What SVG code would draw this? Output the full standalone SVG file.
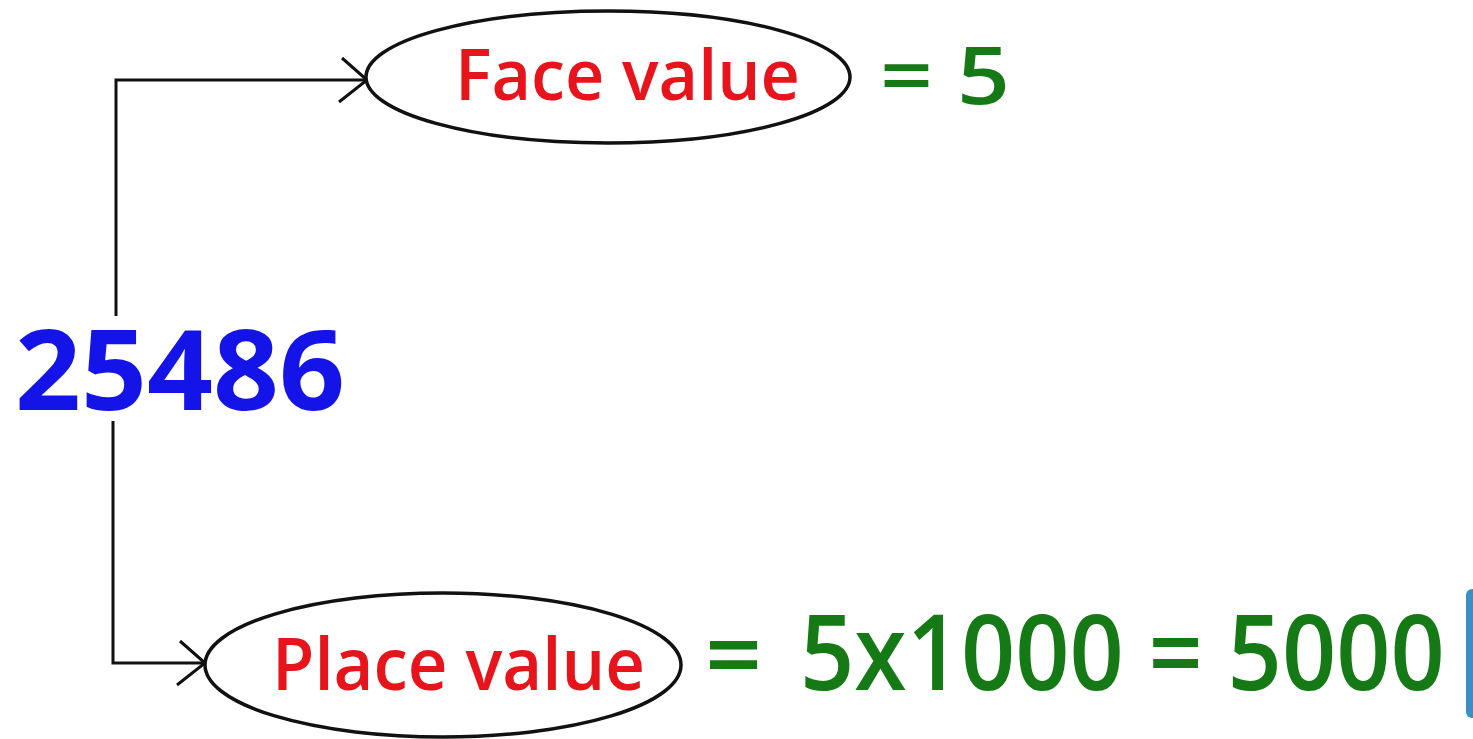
<svg xmlns="http://www.w3.org/2000/svg" width="1473" height="739" viewBox="0 0 1473 739">
<style>
  .conn{fill:none;stroke:#111;stroke-width:3}
  .oval{fill:#fff;stroke:#111;stroke-width:3.5}
  .lbl{font-family:"Open Sans","Liberation Sans",sans-serif;font-weight:600;fill:#e8141c}
  .res{font-family:"Open Sans","Liberation Sans",sans-serif;font-weight:600;fill:#157a15}
  .num{font-family:"Open Sans","Liberation Sans",sans-serif;font-weight:700;fill:#1414e8}
</style>
<defs>
  <marker id="vee" markerUnits="userSpaceOnUse" markerWidth="60" markerHeight="60" refX="0" refY="0" orient="auto" overflow="visible">
    <path d="M -25 -22 L 0 0 L -28 22" fill="none" stroke="#111" stroke-width="3"/>
  </marker>
</defs>
<rect width="1473" height="739" fill="#fff"/>
<g id="connectors">
  <path class="conn" d="M 116 316 L 116 80 L 367 80" marker-end="url(#vee)"/>
  <path class="conn" d="M 113 421 L 113 663 L 205 663" marker-end="url(#vee)"/>
</g>
<g id="number">
  <text class="num" x="15" y="410" font-size="112" textLength="330" lengthAdjust="spacingAndGlyphs">25486</text>
</g>
<g id="face">
  <ellipse class="oval" cx="608" cy="77" rx="242" ry="66"/>
  <text class="lbl" x="455" y="100" font-size="70" textLength="345" lengthAdjust="spacingAndGlyphs">Face value</text>
</g>
<g id="face-result">
  <text class="res" x="880" y="104" font-size="80" textLength="130" lengthAdjust="spacingAndGlyphs">= 5</text>
</g>
<g id="place">
  <ellipse class="oval" cx="443" cy="665" rx="238" ry="72"/>
  <text class="lbl" x="272" y="690" font-size="72" textLength="373" lengthAdjust="spacingAndGlyphs">Place value</text>
</g>
<g id="place-result">
  <text class="res" x="705" y="690" font-size="100">=</text>
  <text class="res" x="0" y="0" font-size="95" transform="translate(800,690) scale(1,1.1)">5x1000 = 5000</text>
</g>
<g id="edge-tab">
  <rect x="1466" y="589" width="20" height="129" rx="6" fill="#3a8fc4"/>
</g>
</svg>
